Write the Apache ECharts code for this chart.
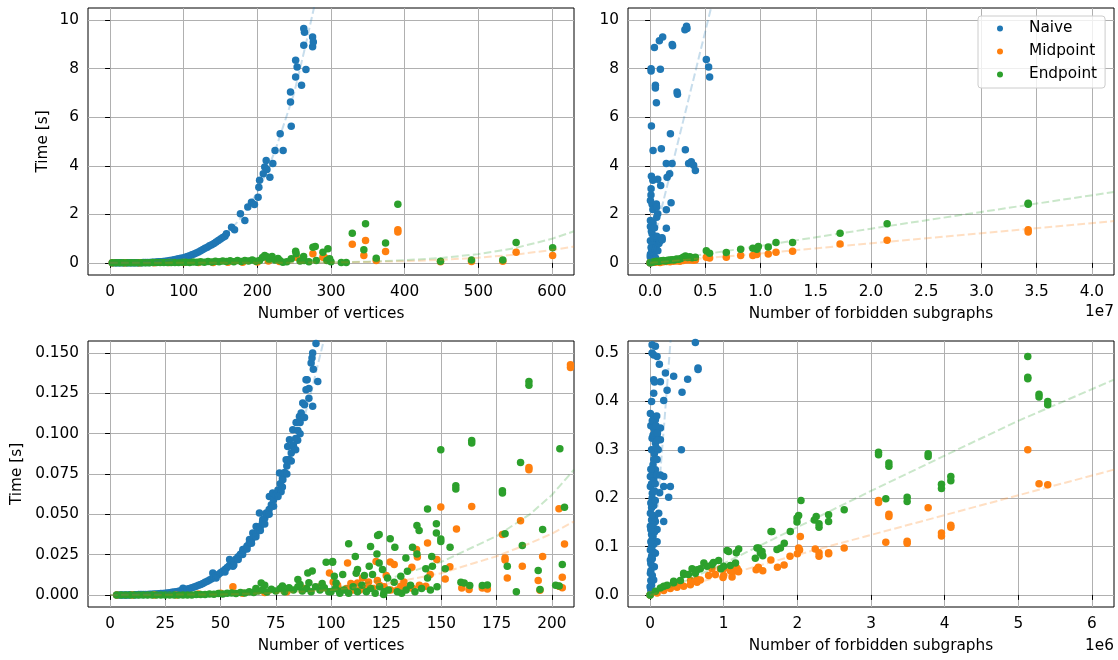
<!DOCTYPE html>
<html><head><meta charset="utf-8">
<script src="https://cdn.jsdelivr.net/npm/echarts@6/dist/echarts.min.js"></script>
<style>html,body{margin:0;padding:0;background:#fff}#c{width:1118px;height:660px}</style>
</head><body><div id="c"></div>
<script>
const seriesNames = ['Naive', 'Midpoint', 'Endpoint'];
const colors = ['#1f77b4', '#ff7f0e', '#2ca02c'];

// ---------- Top-left: vertices vs time (full range) ----------
const tlXTicks = [0, 100, 200, 300, 400, 500, 600];
const tlYTicks = [0, 2, 4, 6, 8, 10];
const tlNaive = [[3,0],[6,0],[9,0],[12,0],[15,0],[18,0],[21,0],[24,0],[27,0.001],[30,0.002],[33,0.003],[36,0.004],[39,0.006],[42,0.008],[45,0.01],[48,0.013],[51,0.016],[54,0.02],[57,0.025],[60,0.03],[63,0.036],[66,0.043],[69,0.05],[72,0.058],[75,0.068],[78,0.08],[81,0.1],[84,0.11],[87,0.13],[90,0.15],[93,0.165],[96,0.185],[99,0.2],[102,0.23],[105,0.26],[108,0.29],[111,0.33],[114,0.37],[117,0.41],[120,0.45],[123,0.5],[126,0.55],[129,0.6],[132,0.64],[135,0.7],[138,0.75],[141,0.8],[144,0.86],[147,0.92],[150,0.98],[153,1.04],[156,1.1],[158,1.2],[165,1.47],[169,1.36],[177,2.02],[183,1.75],[187,2.3],[192,2.5],[196,2.4],[201,2.7],[202,3.12],[203,3.4],[208,3.67],[210,3.95],[212,4.22],[213,3.85],[217,3.53],[221,4.09],[224,4.63],[231,5.32],[235,4.63],[245,6.63],[245,7.04],[246,5.63],[252,7.66],[252,8.35],[254,8.07],[260,7.32],[263,8.97],[263,9.66],[264,9.5],[266,7.97],[275,9.31],[275,8.9],[276,9.1]];
const tlMid = [[3,0],[20,0],[40,0],[60,0],[80,0.01],[100,0.01],[120,0.02],[140,0.02],[160,0.03],[180,0.03],[200,0.04],[215,0.08],[230,0.06],[252.9,0.23],[275.4,0.38],[289,0.23],[291,0.23],[328.9,0.77],[346.9,0.92],[344.6,0.3],[361.4,0.1],[374.1,0.47],[390.8,1.36],[390.8,1.27],[448.7,0.05],[490.8,0.06],[533.3,0.07],[551.4,0.44],[601,0.3]];
const tlEnd = [[3,0],[8,0],[13,0],[18,0],[23,0],[28,0],[33,0],[38,0],[43,0],[48,0],[53,0],[58,0.01],[63,0.01],[68,0.01],[73,0.01],[78,0.02],[83,0.02],[88,0.02],[93,0.02],[98,0.03],[103,0.03],[108,0.02],[113,0.04],[118,0.03],[123,0.05],[128,0.03],[133,0.06],[138,0.04],[143,0.07],[148,0.05],[153,0.08],[158,0.06],[163,0.09],[168,0.05],[173,0.1],[178,0.06],[183,0.1],[188,0.08],[193,0.12],[198,0.07],[203,0.1],[207,0.22],[210,0.3],[213,0.25],[216,0.15],[220,0.26],[224,0.12],[228,0.18],[230.5,0.1],[234.7,0.03],[240,0.05],[246,0.17],[252,0.48],[252.7,0.38],[258,0.08],[262.8,0.26],[263.5,0.1],[270,0.05],[275.4,0.64],[278.6,0.67],[280,0.1],[289,0.44],[294.4,0.1],[295.8,0.58],[298.1,0.17],[300,0.05],[314,0.02],[320.7,0.02],[328.9,1.22],[344.6,0.54],[346.9,1.61],[361.4,0.19],[374.1,0.82],[390.8,2.41],[448.7,0.07],[490.8,0.12],[533.3,0.12],[551.4,0.84],[601,0.62]];
const tlNaiveFit = [[0,0],[25,0.005],[50,0.025],[75,0.08],[100,0.2],[125,0.45],[150,0.95],[175,1.75],[200,2.9],[212,3.7],[225,4.7],[237,5.8],[250,7.0],[265,8.9],[282,11.2]];
const tlMidFit = [[0,0],[200,0.002],[300,0.016],[350,0.035],[400,0.07],[450,0.125],[500,0.21],[550,0.34],[600,0.53],[630,0.67]];
const tlEndFit = [[0,0],[200,0.002],[300,0.022],[350,0.05],[400,0.11],[450,0.2],[500,0.36],[550,0.61],[600,0.99],[630,1.3]];

// ---------- Top-right: forbidden subgraphs vs time (full range) ----------
const trXTicks = [0, 5e6, 1e7, 1.5e7, 2e7, 2.5e7, 3e7, 3.5e7, 4e7];
const trYTicks = [0, 2, 4, 6, 8, 10];
const trNaive = [[0.039e7,8.87],[0.009e7,8.0],[0.009e7,7.9],[0.084e7,9.15],[0.114e7,9.31],[0.093e7,7.98],[0.048e7,7.32],[0.048e7,7.2],[0.057e7,6.6],[0.012e7,5.64],[0.027e7,4.63],[0.102e7,4.7],[0.204e7,8.94],[0.2e7,9.0],[0.244e7,7.04],[0.248e7,6.95],[0.184e7,5.32],[0.319e7,4.66],[0.334e7,9.66],[0.315e7,9.6],[0.33e7,9.75],[0.509e7,8.38],[0.53e7,8.07],[0.539e7,7.66],[0.012e7,3.57],[0.069e7,3.44],[0.096e7,3.19],[0.154e7,3.53],[0.147e7,4.09],[0.177e7,3.67],[0.199e7,4.09],[0.349e7,4.09],[0.373e7,4.17],[0.394e7,4.02],[0.41e7,3.81],[0.009e7,3.05],[0.003e7,2.57],[0.018e7,2.41],[0.057e7,2.43],[0.19e7,2.48],[0.147e7,2.19],[0.069e7,2.02],[0.003e7,1.75],[0.027e7,1.64],[0.06e7,1.88],[0.147e7,1.43],[0.108e7,1.03],[0.018e7,1.2],[0.003e7,0.91],[0.009e7,0.63],[0.048e7,0.84],[0.057e7,0.56],[0.003e7,0.36],[0.018e7,0.14],[0.03e7,0.41],[0.009e7,0.01],[0,0],[0.001e7,0.25],[0.005e7,0.05],[0.015e7,0.5],[0.035e7,1.0],[0.04e7,0.7],[0.075e7,1.0],[0.08e7,0.8],[0.06e7,1.1],[0.025e7,2.2],[0.012e7,1.3],[0.035e7,0.3],[0.02e7,0.75],[0.003e7,1.5],[0.008e7,2.8],[0.025e7,3.4],[0.06e7,2.3],[0.04e7,1.45],[0.07e7,0.5],[0.09e7,0.9],[0.1e7,1.0],[0.11e7,0.95],[0.05e7,0.2],[0.025e7,0.6]];
const trMid = [[0,0],[0.02e7,0.01],[0.05e7,0.03],[0.09e7,0.02],[0.12e7,0.05],[0.15e7,0.06],[0.18e7,0.05],[0.21e7,0.07],[0.24e7,0.08],[0.27e7,0.07],[0.3e7,0.1],[0.33e7,0.12],[0.36e7,0.12],[0.39e7,0.11],[0.41e7,0.12],[0.509e7,0.23],[0.539e7,0.2],[0.69e7,0.23],[0.82e7,0.3],[0.93e7,0.3],[0.966e7,0.34],[1.07e7,0.37],[1.14e7,0.44],[1.29e7,0.48],[1.72e7,0.78],[2.146e7,0.93],[3.423e7,1.36],[3.423e7,1.27]];
const trEnd = [[0,0],[0.02e7,0.03],[0.04e7,0.05],[0.06e7,0.07],[0.08e7,0.06],[0.1e7,0.09],[0.12e7,0.1],[0.14e7,0.08],[0.16e7,0.11],[0.18e7,0.12],[0.2e7,0.13],[0.22e7,0.12],[0.24e7,0.16],[0.26e7,0.15],[0.28e7,0.18],[0.3e7,0.23],[0.32e7,0.28],[0.34e7,0.22],[0.36e7,0.25],[0.38e7,0.21],[0.41e7,0.23],[0.509e7,0.5],[0.539e7,0.4],[0.69e7,0.43],[0.82e7,0.56],[0.93e7,0.6],[0.966e7,0.56],[0.98e7,0.67],[1.07e7,0.65],[1.14e7,0.84],[1.29e7,0.84],[1.72e7,1.22],[2.146e7,1.61],[3.423e7,2.41],[3.423e7,2.46]];
const trNaiveFit = [[0,0],[0.084e7,1.88],[0.3e7,5.85],[0.56e7,10.65]];
const trMidFit = [[0,0],[1e7,0.39],[1.72e7,0.69],[3e7,1.22],[4.2e7,1.72]];
const trEndFit = [[0,0],[0.5e7,0.36],[1e7,0.7],[2e7,1.41],[3e7,2.1],[4.2e7,2.92]];

// ---------- Bottom-left: vertices vs time (zoomed) ----------
const blXTicks = [0, 25, 50, 75, 100, 125, 150, 175, 200];
const blYTicks = [0, 0.025, 0.05, 0.075, 0.1, 0.125, 0.15];
const blNaive = [[3,0],[4,0],[5,0],[6,0],[7,0],[8,0],[9,0.0001],[10,0.0001],[11,0.0001],[12,0.0001],[13,0.0002],[14,0.0002],[15,0.0002],[16,0.0003],[17,0.0003],[18,0.0004],[19,0.0004],[20,0.0005],[21,0.0006],[22,0.0007],[23,0.0008],[24,0.0009],[25,0.001],[26,0.0012],[27,0.0014],[28,0.0016],[29,0.0018],[30,0.002],[31,0.0023],[32,0.0026],[33,0.0042],[33,0.003],[34,0.0033],[35,0.0037],[36,0.004],[37,0.0044],[38,0.0049],[39,0.0054],[40,0.006],[41,0.0065],[42,0.0071],[43,0.0078],[44,0.0085],[45,0.0092],[46,0.01],[46.5,0.0136],[47,0.011],[48,0.0118],[49,0.0127],[50,0.0137],[51,0.0147],[52,0.0158],[53,0.017],[54,0.0182],[54.1,0.0219],[55,0.0195],[55.6,0.0177],[56,0.0208],[57,0.0222],[58,0.0237],[59,0.0252],[60,0.0268],[60.1,0.0281],[61,0.0285],[62,0.0303],[63,0.032],[63.1,0.0343],[64,0.034],[64.6,0.0384],[65,0.036],[66,0.038],[66.1,0.0425],[67,0.0402],[67.6,0.0508],[68,0.0425],[69,0.045],[69.1,0.0467],[70,0.0475],[70.7,0.0508],[71,0.05],[72,0.053],[72.1,0.0611],[73,0.056],[73.6,0.0632],[74,0.059],[75,0.062],[76,0.065],[76.7,0.0756],[77,0.069],[77.4,0.064],[78,0.072],[78.2,0.0715],[79,0.076],[79.7,0.0839],[80,0.08],[80.4,0.092],[81,0.084],[81.2,0.0963],[82,0.088],[82.7,0.0921],[82.7,0.1025],[83,0.093],[84,0.097],[84.2,0.107],[84.9,0.096],[85,0.102],[85.7,0.1107],[86,0.107],[86.5,0.1128],[87.2,0.119],[88,0.118],[88.7,0.1273],[88.7,0.1335],[89.2,0.1335],[90,0.128],[91,0.1438],[91.4,0.147],[91.7,0.117],[91.7,0.15],[92,0.14],[93.2,0.156],[94,0.1324],[94,0.158],
  [48,0.0105],[52,0.0142],[56,0.0185],[58,0.022],[60,0.025],[62,0.0285],[64,0.032],[66,0.036],[68,0.04],[70,0.044],[72,0.05],[74,0.055],[76,0.061],[78,0.067],[80,0.075],[82,0.083],[84,0.09],[86,0.1],[88,0.11],[90,0.122]];
const blMid = [[3,0],[10,0],[20,0],[30,0],[40,0.0005],[50,0.001],[55.6,0.005],[60,0.001],[70,0.0015],[80,0.002],[88,0.004],[95,0.005],[99.3,0.0136],[101,0.008],[103,0.006],[104,0.003],[107,0.004],[107.5,0.0198],[109,0.007],[110,0.003],[112,0.0074],[113,0.003],[114.3,0.0105],[116,0.004],[117,0.008],[119,0.004],[120.4,0.0208],[121,0.009],[122,0.006],[124,0.005],[125,0.012],[126.8,0.0204],[127,0.003],[128.6,0.0188],[130,0.003],[131.6,0.0053],[133,0.008],[134,0.004],[136.6,0.0171],[137,0.004],[138.7,0.0281],[139.1,0.0235],[140,0.006],[142.9,0.0053],[143.7,0.0322],[144.9,0.0126],[147.9,0.0219],[149.7,0.0545],[151.7,0.0099],[153.8,0.0174],[156.8,0.0409],[159.2,0.0043],[162.5,0.0033],[163.7,0.0549],[168.5,0.0043],[170.8,0.0037],[177.6,0.0374],[178.8,0.0229],[178.8,0.0216],[179.8,0.0105],[185.8,0.046],[186.6,0.0177],[189.6,0.0791],[189.6,0.0777],[193.8,0.009],[195.8,0.0239],[194.6,0.0029],[203.2,0.0535],[203.2,0.0053],[204.7,0.011],[205.7,0.0316],[204.7,0.0045],[208.4,0.1428],[208.4,0.141]];
const blEnd = [[3,0],[5,0],[7,0],[9,0],[11,0],[13,0],[15,0],[17,0],[19,0],[21,0],[23,0],[25,0],[27,0],[29,0],[31,0],[33,0],[35,0],[37,0],[39,0.0002],[41,0.0003],[43,0.0002],[45,0.0005],[47,0.0004],[49,0.0008],[51,0.0006],[53,0.001],[55,0.0012],[57,0.0008],[59,0.0015],[61,0.0012],[63,0.002],[65,0.0015],[66,0.004],[67,0.0025],[68.4,0.0074],[69,0.003],[70,0.006],[71,0.0018],[73,0.0035],[75,0.0025],[77,0.004],[78,0.0055],[79,0.002],[81,0.0045],[83,0.003],[85,0.0095],[85,0.005],[86,0.0065],[87,0.0025],[89,0.004],[89.5,0.0136],[90,0.0075],[91,0.002],[91.5,0.0148],[93,0.005],[95,0.003],[96,0.007],[97,0.0045],[97.8,0.0202],[99,0.002],[100,0.002],[100.7,0.0208],[100.7,0.0202],[101.5,0.0115],[102,0.004],[102.3,0.0074],[103.8,0.0022],[104,0.001],[105.3,0.0126],[106,0.003],[108,0.0318],[108,0.001],[110,0.005],[111,0.0239],[111.4,0.0134],[112,0.0157],[112,0.002],[114,0.006],[115.1,0.0121],[116,0.002],[117.3,0.0177],[117.9,0.0301],[118,0.004],[118.8,0.0126],[120,0.001],[120.8,0.0254],[121.1,0.0368],[121.8,0.0374],[121.8,0.0198],[122,0.005],[123.3,0.0157],[123.8,0.0002],[124,0.002],[125.6,0.0105],[126,0.003],[126.8,0.0349],[128.6,0.0078],[128.9,0.0295],[130,0.002],[131.6,0.0115],[132,0.001],[133.9,0.0229],[134,0.003],[134.6,0.0146],[136,0.006],[136.9,0.0295],[138,0.002],[138.9,0.0254],[138.9,0.043],[139.9,0.0399],[141,0.004],[142.9,0.0163],[143.7,0.0533],[143.7,0.0105],[145,0.003],[145.6,0.0239],[145.9,0.0177],[147.7,0.0442],[147.7,0.0384],[148,0.005],[149.7,0.0901],[149.7,0.0347],[149.7,0.0332],[151.7,0.0163],[153.9,0.0295],[156.5,0.0677],[156.5,0.0657],[158.8,0.0078],[160.3,0.0074],[162.8,0.0058],[163.7,0.0958],[163.7,0.0942],[168.5,0.0058],[170.8,0.0062],[177.6,0.0646],[177.6,0.0632],[178.8,0.038],[179.8,0.0177],[183.9,0.002],[185.8,0.0822],[186.6,0.0306],[189.6,0.1324],[189.6,0.13],[193.8,0.0152],[194.6,0.0033],[195.8,0.0405],[201.7,0.006],[203.3,0.0055],[203.6,0.0907],[204.7,0.0188],[205.7,0.0543]];
const blNaiveFit = [[0,0],[20,0.0005],[30,0.002],[40,0.006],[50,0.013],[60,0.026],[70,0.045],[80,0.075],[90,0.12],[98,0.165]];
const blMidFit = [[0,0],[50,0.0003],[75,0.0012],[100,0.003],[125,0.0068],[150,0.0135],[175,0.024],[190,0.032],[200,0.038],[210,0.0456]];
const blEndFit = [[0,0],[50,0.0005],[75,0.0015],[100,0.004],[125,0.0095],[150,0.0205],[175,0.0365],[190,0.05],[200,0.062],[210,0.0777]];

// ---------- Bottom-right: forbidden subgraphs vs time (zoomed) ----------
const brXTicks = [0, 1e6, 2e6, 3e6, 4e6, 5e6, 6e6];
const brYTicks = [0, 0.1, 0.2, 0.3, 0.4, 0.5];
const brNaive = [[0.027e6,0.517],[0.072e6,0.514],[0.027e6,0.5],[0.049e6,0.496],[0.095e6,0.493],[0.126e6,0.477],[0.615e6,0.522],[0.208e6,0.459],[0.32e6,0.452],[0.049e6,0.445],[0.14e6,0.441],[0.231e6,0.423],[0.049e6,0.417],[0.434e6,0.419],[0.51e6,0.446],[0.651e6,0.469],[0.651e6,0.466],[0.185e6,0.402],[0.004e6,0.375],[0.049e6,0.369],[0.072e6,0.362],[0.14e6,0.345],[0.049e6,0.345],[0.095e6,0.331],[0.027e6,0.324],[0.14e6,0.321],[0.072e6,0.314],[0.425e6,0.3],[0.058e6,0.292],[0.04e6,0.269],[0.072e6,0.259],[0.004e6,0.245],[0.185e6,0.245],[0.275e6,0.224],[0.185e6,0.224],[0.13e6,0.211],[0.252e6,0.202],[0.004e6,0.224],[0.049e6,0.238],[0.027e6,0.2],[0.004e6,0.169],[0.117e6,0.169],[0.185e6,0.152],[0.072e6,0.152],[0.004e6,0.142],[0.095e6,0.135],[0.027e6,0.114],[0.095e6,0.11],[0.004e6,0.093],[0.072e6,0.086],[0.004e6,0.072],[0.058e6,0.058],[0.004e6,0.045],[0.049e6,0.031],[0,0.017],[0.018e6,0.007],[0,0],[0.01e6,0.01],[0.02e6,0.02],[0.01e6,0.03],[0.03e6,0.04],[0.01e6,0.05],[0.03e6,0.06],[0.01e6,0.065],[0.03e6,0.075],[0.02e6,0.08],[0.04e6,0.09],[0.02e6,0.1],[0.05e6,0.105],[0.01e6,0.11],[0.04e6,0.12],[0.02e6,0.125],[0.06e6,0.13],[0.01e6,0.135],[0.04e6,0.145],[0.02e6,0.155],[0.06e6,0.16],[0.03e6,0.165],[0.02e6,0.18],[0.05e6,0.185],[0.01e6,0.19],[0.07e6,0.195],[0.03e6,0.21],[0.06e6,0.215],[0.02e6,0.23],[0.07e6,0.23],[0.03e6,0.25],[0.09e6,0.248],[0.01e6,0.26],[0.05e6,0.28],[0.02e6,0.3],[0.08e6,0.305],[0.04e6,0.33],[0.06e6,0.335],[0.01e6,0.35],[0.1e6,0.335],[0.03e6,0.36],[0.09e6,0.37],[0.11e6,0.3],[0.02e6,0.4],[0.06e6,0.44],[0.1e6,0.32],[0.08e6,0.35],[0.14e6,0.248],[0.095e6,0.28]];
const brMid = [[0,0],[0.095e6,0.004],[0.185e6,0.009],[0.275e6,0.013],[0.366e6,0.016],[0.41e6,0.025],[0.456e6,0.018],[0.547e6,0.021],[0.55e6,0.03],[0.637e6,0.026],[0.64e6,0.032],[0.682e6,0.031],[0.795e6,0.04],[0.84e6,0.054],[0.886e6,0.042],[0.954e6,0.054],[0.99e6,0.036],[0.999e6,0.04],[0.999e6,0.054],[1.09e6,0.05],[1.113e6,0.037],[1.134e6,0.049],[1.18e6,0.055],[1.2e6,0.05],[1.2e6,0.048],[1.44e6,0.052],[1.47e6,0.057],[1.53e6,0.05],[1.64e6,0.072],[1.73e6,0.057],[1.82e6,0.062],[1.9e6,0.08],[2.0e6,0.085],[2.03e6,0.093],[2.04e6,0.121],[2.017e6,0.097],[2.243e6,0.095],[2.294e6,0.087],[2.294e6,0.08],[2.424e6,0.087],[2.424e6,0.085],[2.636e6,0.097],[3.102e6,0.195],[3.102e6,0.191],[3.201e6,0.109],[3.243e6,0.167],[3.243e6,0.162],[3.491e6,0.111],[3.491e6,0.107],[3.776e6,0.18],[3.957e6,0.128],[3.957e6,0.122],[4.084e6,0.144],[4.084e6,0.14],[5.129e6,0.3],[5.282e6,0.23],[5.4e6,0.228]];
const brEnd = [[0,0],[0.072e6,0.0075],[0.14e6,0.0145],[0.185e6,0.018],[0.231e6,0.02],[0.32e6,0.025],[0.32e6,0.028],[0.411e6,0.03],[0.456e6,0.042],[0.456e6,0.045],[0.52e6,0.042],[0.57e6,0.054],[0.615e6,0.045],[0.64e6,0.052],[0.682e6,0.054],[0.73e6,0.066],[0.773e6,0.059],[0.841e6,0.063],[0.86e6,0.067],[0.931e6,0.071],[0.963e6,0.054],[1.0e6,0.059],[1.045e6,0.092],[1.067e6,0.09],[1.09e6,0.061],[1.16e6,0.066],[1.171e6,0.087],[1.203e6,0.095],[1.429e6,0.076],[1.452e6,0.097],[1.474e6,0.097],[1.497e6,0.087],[1.52e6,0.09],[1.53e6,0.081],[1.642e6,0.131],[1.655e6,0.131],[1.723e6,0.094],[1.77e6,0.097],[1.822e6,0.107],[1.904e6,0.131],[1.995e6,0.151],[1.995e6,0.159],[2.017e6,0.164],[2.049e6,0.195],[2.256e6,0.162],[2.23e6,0.155],[2.294e6,0.147],[2.294e6,0.14],[2.424e6,0.166],[2.424e6,0.152],[2.636e6,0.176],[3.102e6,0.295],[3.102e6,0.29],[3.201e6,0.199],[3.243e6,0.273],[3.243e6,0.266],[3.491e6,0.202],[3.491e6,0.193],[3.776e6,0.292],[3.776e6,0.286],[3.957e6,0.229],[3.957e6,0.22],[4.084e6,0.245],[4.084e6,0.236],[5.129e6,0.493],[5.129e6,0.45],[5.129e6,0.447],[5.282e6,0.415],[5.282e6,0.409],[5.4e6,0.4],[5.4e6,0.393]];
const brNaiveFit = [[0,0],[0.1e6,0.18],[0.2e6,0.37],[0.28e6,0.53]];
const brMidFit = [[0,0],[1e6,0.04],[2e6,0.083],[3e6,0.124],[4e6,0.165],[5e6,0.206],[6.3e6,0.259]];
const brEndFit = [[0,0],[0.5e6,0.03],[1e6,0.065],[2e6,0.14],[3e6,0.215],[4e6,0.288],[5e6,0.36],[6.3e6,0.445]];

const FONT = 'DejaVu Sans';
const FS = 15.3;
const panels = [
  {grid:{left:88, top:8, width:486, height:267}, xr:[-30,630], yr:[-0.5,10.5], xt:tlXTicks, yt:tlYTicks,
   xf:v=>String(Math.round(v)), yf:v=>String(Math.round(v)), xName:'Number of vertices', yName:'Time [s]', yGap:37,
   pts:[tlNaive, tlMid, tlEnd], fits:[tlNaiveFit, tlMidFit, tlEndFit]},
  {grid:{left:628, top:8, width:486, height:267}, xr:[-2e6,4.2e7], yr:[-0.5,10.5], xt:trXTicks, yt:trYTicks,
   xf:v=>(v/1e7).toFixed(1), yf:v=>String(Math.round(v)), xName:'Number of forbidden subgraphs', yName:'', yGap:37,
   pts:[trNaive, trMid, trEnd], fits:[trNaiveFit, trMidFit, trEndFit]},
  {grid:{left:88, top:341, width:486, height:266}, xr:[-10,210], yr:[-0.0075,0.1575], xt:blXTicks, yt:blYTicks,
   xf:v=>String(Math.round(v)), yf:v=>v.toFixed(3), xName:'Number of vertices', yName:'Time [s]', yGap:63,
   pts:[blNaive, blMid, blEnd], fits:[blNaiveFit, blMidFit, blEndFit]},
  {grid:{left:628, top:341, width:486, height:266}, xr:[-3e5,6.3e6], yr:[-0.025,0.525], xt:brXTicks, yt:brYTicks,
   xf:v=>String(Math.round(v/1e6)), yf:v=>v.toFixed(1), xName:'Number of forbidden subgraphs', yName:'', yGap:37,
   pts:[brNaive, brMid, brEnd], fits:[brNaiveFit, brMidFit, brEndFit]}
];

const grids = [], xAxes = [], yAxes = [], series = [];
panels.forEach((p, i) => {
  grids.push(Object.assign({show:true, borderColor:'#000', borderWidth:1, backgroundColor:'transparent', containLabel:false}, p.grid));
  const xi = p.xt[1] - p.xt[0], yi = p.yt[1] - p.yt[0];
  xAxes.push({type:'value', gridIndex:i, min:p.xr[0], max:p.xr[1], minInterval:xi, maxInterval:xi, splitNumber:8,
    axisLine:{show:false},
    axisTick:{show:true, inside:false, length:5, lineStyle:{color:'#000', width:1}, customValues:p.xt},
    axisLabel:{margin:10, color:'#000', fontSize:FS, fontFamily:FONT, formatter:p.xf, customValues:p.xt},
    splitLine:{show:true, lineStyle:{color:'#b0b0b0', width:1}},
    name:p.xName, nameLocation:'middle', nameGap:32, nameTextStyle:{color:'#000', fontSize:FS, fontFamily:FONT}});
  yAxes.push({type:'value', gridIndex:i, min:p.yr[0], max:p.yr[1], minInterval:yi, maxInterval:yi, splitNumber:6,
    axisLine:{show:false},
    axisTick:{show:true, inside:false, length:5, lineStyle:{color:'#000', width:1}, customValues:p.yt},
    axisLabel:{margin:9, color:'#000', fontSize:FS, fontFamily:FONT, formatter:p.yf, customValues:p.yt},
    splitLine:{show:true, lineStyle:{color:'#b0b0b0', width:1}},
    name:p.yName, nameLocation:'middle', nameGap:p.yGap, nameTextStyle:{color:'#000', fontSize:FS, fontFamily:FONT}});
  p.pts.forEach((d, k) => {
    series.push({type:'scatter', name:seriesNames[k], xAxisIndex:i, yAxisIndex:i, data:d, symbol:'circle', symbolSize:7.5,
      itemStyle:{color:colors[k], opacity:1}, z:2, silent:true, animation:false, clip:true});
  });
  p.fits.forEach((d, k) => {
    series.push({type:'line', name:seriesNames[k] + ' fit', xAxisIndex:i, yAxisIndex:i, data:d, showSymbol:false, symbol:'none',
      smooth:false, clip:true, silent:true, animation:false, z:3,
      lineStyle:{color:colors[k], width:2, type:[7.7,3.3], opacity:0.25}});
  });
});

const chart = echarts.init(document.getElementById('c'), null, {renderer:'canvas'});
chart.setOption({
  backgroundColor:'#fff',
  animation:false,
  textStyle:{fontFamily:FONT},
  grid:grids, xAxis:xAxes, yAxis:yAxes, series:series,
  legend:{data:seriesNames, orient:'vertical', left:978, top:16, icon:'circle', itemWidth:6, itemHeight:6, itemGap:8,
    padding:[5,8,6,19], backgroundColor:'rgba(255,255,255,0.8)', borderColor:'#cccccc', borderWidth:1, borderRadius:3,
    textStyle:{fontSize:FS, color:'#000', fontFamily:FONT, padding:[0,0,0,21]}},
  graphic:[
    {type:'text', right:4, top:305, style:{text:'1e7', font:'15.3px "DejaVu Sans"', fill:'#000'}},
    {type:'text', right:4, top:639, style:{text:'1e6', font:'15.3px "DejaVu Sans"', fill:'#000'}}
  ]
});
</script></body></html>
